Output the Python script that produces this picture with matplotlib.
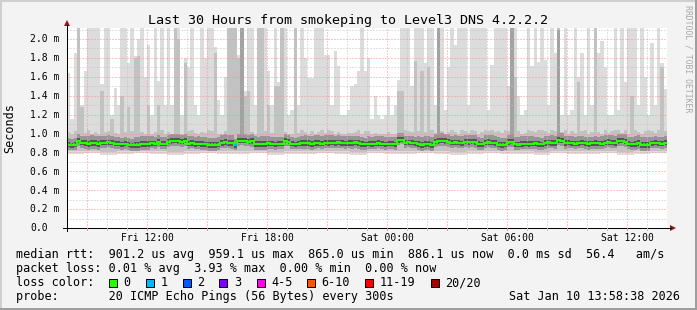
import numpy as np
import matplotlib
matplotlib.use("Agg")
import matplotlib.pyplot as plt
from matplotlib.lines import Line2D
from matplotlib.patches import Rectangle, Polygon

W, H = 697, 310
MONO = "DejaVu Sans Mono"

# 180 bins of 10 minutes, first bin starts Fri 08:00 (values in ms)
top = [
    1.64, 1.15, 1.85, 2.2, 1.3, 1.66, 2.2, 2.2, 2.2, 2.2, 1.52, 2.2, 2.2, 1.2, 1.48,
    1.3, 2.2, 2.2, 1.75, 2.2, 1.82, 2.0, 2.2, 1.6, 1.94, 1.2, 2.2, 1.56, 2.2, 1.3,
    2.2, 1.3, 2.2, 2.2, 1.2, 1.8, 1.7, 2.2, 1.3, 1.2, 2.2, 1.8, 2.2, 2.2, 1.92,
    1.35, 1.2, 1.6, 2.2, 2.2, 2.2, 1.83, 2.2, 1.45, 2.2, 2.2, 1.3, 2.2, 2.2, 2.2,
    1.66, 1.3, 2.2, 1.55, 2.2, 2.2, 1.2, 1.25, 2.2, 1.3, 2.2, 1.8, 1.59, 1.59, 2.2,
    2.2, 2.2, 1.83, 1.83, 1.3, 1.87, 1.71, 1.2, 1.2, 1.25, 1.5, 1.52, 1.66, 2.2, 1.66,
    1.8, 1.15, 1.4, 1.2, 1.15, 1.2, 1.4, 1.2, 1.3, 1.57, 2.2, 2.2, 2.2, 1.5, 2.2,
    2.2, 2.2, 1.75, 2.2, 2.2, 1.3, 2.2, 2.2, 1.25, 1.7, 2.2, 1.94, 2.2, 2.2, 2.2,
    1.3, 2.2, 2.2, 2.2, 2.2, 2.2, 1.25, 1.73, 2.2, 2.2, 2.2, 2.2, 1.5, 2.2, 2.2,
    1.4, 1.2, 1.25, 2.2, 1.71, 2.2, 1.76, 2.2, 1.78, 1.3, 2.2, 1.85, 2.2, 1.2, 2.2,
    1.2, 1.25, 2.2, 1.6, 1.85, 1.2, 2.2, 1.3, 2.2, 1.85, 1.98, 1.7, 1.2, 1.2, 2.2,
    1.25, 2.2, 1.55, 2.2, 2.2, 2.2, 1.3, 2.2, 1.6, 1.2, 1.96, 1.3, 2.2, 1.75, 1.47,
]
mid = [
    1.02, 0.99, 1.03, 2.2, 1.28, 1.01, 1.04, 0.99, 1.02, 1.00, 1.45, 1.02, 1.03, 1.15, 1.01,
    0.99, 1.40, 1.02, 1.28, 1.03, 1.80, 1.82, 1.02, 1.00, 1.30, 0.99, 1.02, 1.30, 1.04, 1.00,
    1.02, 1.00, 2.2, 2.0, 0.99, 1.75, 1.03, 1.04, 1.01, 0.99, 1.02, 1.01, 1.04, 1.03, 1.85,
    1.00, 0.99, 1.03, 2.2, 2.2, 2.2, 1.80, 2.2, 1.40, 1.45, 1.02, 1.00, 2.2, 2.2, 1.03,
    1.30, 1.01, 1.50, 1.50, 2.2, 1.02, 0.99, 1.00, 2.2, 1.01, 1.04, 1.02, 1.00, 1.03, 0.99,
    1.02, 1.04, 1.01, 1.04, 1.03, 0.99, 1.02, 0.99, 0.99, 1.01, 1.01, 1.02, 1.04, 1.00, 1.03,
    1.03, 0.99, 1.01, 0.99, 0.99, 1.00, 1.02, 0.99, 1.00, 1.45, 1.45, 1.04, 1.03, 1.02, 1.77,
    1.03, 1.66, 1.02, 1.70, 1.04, 1.01, 2.2, 1.03, 0.99, 1.02, 1.04, 1.02, 1.00, 1.04, 1.03,
    1.01, 1.04, 1.03, 0.99, 1.02, 1.04, 1.03, 1.04, 1.02, 1.03, 1.01, 1.04, 1.03, 2.2, 1.60,
    1.03, 0.99, 1.01, 1.04, 1.03, 1.02, 1.04, 1.04, 1.03, 1.01, 1.04, 1.03, 2.2, 1.02, 1.04,
    1.00, 1.03, 1.01, 1.55, 1.03, 1.04, 0.99, 1.02, 2.2, 1.02, 1.00, 1.04, 1.01, 1.03, 1.04,
    1.04, 1.01, 1.04, 0.99, 1.40, 1.04, 1.02, 1.00, 1.03, 1.04, 1.03, 1.01, 1.04, 1.70, 1.03,
]
median = [
    0.88, 0.875, 0.88, 0.92, 0.90, 0.895, 0.89, 0.90, 0.895, 0.89, 0.90, 0.90, 0.905, 0.90, 0.89,
    0.89, 0.885, 0.89, 0.88, 0.875, 0.88, 0.88, 0.89, 0.885, 0.89, 0.895, 0.89, 0.91, 0.89, 0.89,
    0.915, 0.92, 0.925, 0.92, 0.915, 0.92, 0.89, 0.895, 0.885, 0.89, 0.89, 0.885, 0.88, 0.875, 0.88,
    0.88, 0.90, 0.905, 0.90, 0.895, 0.875, 0.92, 0.925, 0.92, 0.915, 0.92, 0.89, 0.885, 0.89, 0.89,
    0.895, 0.89, 0.885, 0.89, 0.89, 0.92, 0.915, 0.89, 0.885, 0.89, 0.895, 0.90, 0.895, 0.89, 0.90,
    0.895, 0.89, 0.90, 0.895, 0.90, 0.90, 0.905, 0.90, 0.895, 0.90, 0.90, 0.905, 0.90, 0.89, 0.885,
    0.89, 0.885, 0.89, 0.895, 0.89, 0.885, 0.89, 0.89, 0.885, 0.93, 0.935, 0.90, 0.905, 0.90, 0.895,
    0.885, 0.88, 0.885, 0.89, 0.88, 0.915, 0.92, 0.925, 0.92, 0.915, 0.90, 0.905, 0.90, 0.895, 0.91,
    0.91, 0.915, 0.91, 0.89, 0.885, 0.90, 0.905, 0.90, 0.895, 0.878, 0.875, 0.88, 0.91, 0.915, 0.885,
    0.88, 0.885, 0.89, 0.885, 0.89, 0.895, 0.89, 0.885, 0.90, 0.905, 0.90, 0.895, 0.93, 0.925, 0.895,
    0.90, 0.895, 0.89, 0.895, 0.90, 0.895, 0.89, 0.895, 0.90, 0.895, 0.89, 0.90, 0.905, 0.90, 0.895,
    0.92, 0.925, 0.915, 0.89, 0.885, 0.89, 0.895, 0.88, 0.875, 0.88, 0.895, 0.90, 0.895, 0.89, 0.90,
]
# coarse 50 minute values for the lower smoke edge and the dark band around the median
low = [0.78, 0.79, 0.77, 0.78, 0.79, 0.78, 0.77, 0.78, 0.79, 0.78, 0.78, 0.79,
       0.77, 0.78, 0.78, 0.79, 0.78, 0.77, 0.79, 0.78, 0.78, 0.79, 0.78, 0.77,
       0.78, 0.79, 0.78, 0.78, 0.77, 0.79, 0.78, 0.78, 0.79, 0.77, 0.78, 0.79]
low2 = [0.81, 0.82, 0.80, 0.81, 0.82, 0.81, 0.80, 0.81, 0.82, 0.81, 0.81, 0.82,
        0.80, 0.81, 0.81, 0.82, 0.81, 0.80, 0.82, 0.81, 0.81, 0.82, 0.81, 0.80,
        0.81, 0.82, 0.81, 0.81, 0.80, 0.82, 0.81, 0.81, 0.82, 0.80, 0.81, 0.82]
spread_dn = [0.05, 0.06, 0.05, 0.055, 0.06, 0.05, 0.055, 0.05, 0.06, 0.055, 0.05, 0.06,
             0.055, 0.05, 0.06, 0.05, 0.055, 0.06, 0.05, 0.055, 0.05, 0.06, 0.055, 0.05,
             0.06, 0.05, 0.055, 0.05, 0.06, 0.055, 0.05, 0.06, 0.05, 0.055, 0.06, 0.05]
spread_up = [0.07, 0.08, 0.075, 0.07, 0.085, 0.075, 0.07, 0.08, 0.075, 0.085, 0.07, 0.08,
             0.075, 0.07, 0.08, 0.085, 0.075, 0.07, 0.08, 0.075, 0.07, 0.085, 0.08, 0.075,
             0.07, 0.08, 0.075, 0.085, 0.07, 0.08, 0.075, 0.07, 0.08, 0.075, 0.085, 0.07]
dark_idx = [52, 111, 133, 147]
dark_val = [2.2, 2.2, 2.2, 2.1]
loss_idx = [50]
loss_val = [1]

tick_hours = [4, 10, 16, 22, 28]
tick_labels = ["Fri 12:00", "Fri 18:00", "Sat 00:00", "Sat 06:00", "Sat 12:00"]
y_ticks = [0.0, 0.2, 0.4, 0.6, 0.8, 1.0, 1.2, 1.4, 1.6, 1.8, 2.0]

loss_names = ["0", "1", "2", "3", "4-5", "6-10", "11-19", "20/20"]
loss_colors = ["#26ff00", "#00b8ff", "#0059ff", "#7e00ff", "#ff00ea", "#ff5500", "#ff0000", "#a10000"]
box_x = [108.7, 145.7, 182.7, 219.3, 256.7, 306.7, 365.0, 430.7]

# ---- layout (pixels) ----
L, R, T, B = 67, 667, 28, 228
PX_PER_MS = 94.5


def fx(x):
    return x / W


def fy(y):
    return 1 - y / H


fig = plt.figure(figsize=(W / 100, H / 100), dpi=100, facecolor="#f3f3f3")
ax = fig.add_axes([fx(L), fy(B), (R - L) / W, (B - T) / H])
ax.set_facecolor("white")
ax.set_xlim(0, 30)
ax.set_ylim(0, (B - T) / PX_PER_MS)
for s in ax.spines.values():
    s.set_visible(False)
ax.set_xticks([])
ax.set_yticks([])

edges = np.arange(181) / 6.0
top_a = np.array(top)
mid_a = np.minimum(np.array(mid), top_a)
med = np.array(median)
low_a = np.repeat(low, 5)
low2_a = np.repeat(low2, 5)
dn = np.repeat(spread_dn, 5)
up = np.repeat(spread_up, 5)

# smoke
ax.stairs(top_a, edges, baseline=low_a, fill=True, color="#dcdcdc", lw=0, zorder=1)
ax.stairs(mid_a, edges, baseline=low2_a, fill=True, color="#c2c2c2", lw=0, zorder=1.1)
for i, v in zip(dark_idx, dark_val):
    ax.bar(edges[i], v - 1.0, bottom=1.0, width=1 / 6, align="edge", color="#a2a2a2", lw=0, zorder=1.2)
ax.stairs(med + up, edges, baseline=med - dn, fill=True, color="#969696", lw=0, zorder=1.3)
ax.stairs(med + up / 2.5, edges, baseline=med - dn / 2, fill=True, color="#555555", lw=0, zorder=1.4)

# grid
dots = (0, (1, 2))
for h in range(1, 30):
    major = (8 + h) % 3 == 0
    ax.axvline(h, color="#ff8f8f" if major else "#c4c4c4", lw=0.72, ls=dots, zorder=2)
for k in range(1, 22):
    major = k % 2 == 0
    ax.axhline(k / 10, color="#ff8f8f" if major else "#c4c4c4", lw=0.72, ls=dots, zorder=2)

# median line coloured by loss
ax.stairs(med, edges, baseline=None, color=loss_colors[0], lw=1.5, zorder=3)
for i, v in zip(loss_idx, loss_val):
    ax.plot([edges[i], edges[i + 1]], [med[i], med[i]], color=loss_colors[v], lw=1.5,
            solid_capstyle="butt", zorder=3.1)

# axes lines and arrows
fig.add_artist(Line2D([fx(L), fx(L)], [fy(B + 3), fy(25)], color="black", lw=0.72))
fig.add_artist(Line2D([fx(L - 4), fx(671)], [fy(B), fy(B)], color="black", lw=0.72))
fig.add_artist(Polygon([(fx(L - 3), fy(26)), (fx(L + 3), fy(26)), (fx(L), fy(20))],
                       closed=True, color="#8b1a1a", lw=0))
fig.add_artist(Polygon([(fx(670), fy(B - 3)), (fx(670), fy(B + 3)), (fx(676), fy(B))],
                       closed=True, color="#8b1a1a", lw=0))
for h in range(1, 30):
    xp = L + h * 20
    major = (8 + h) % 3 == 0
    fig.add_artist(Line2D([fx(xp), fx(xp)], [fy(B), fy(B + 2)],
                          color="#ff8f8f" if major else "#c4c4c4", lw=0.72))

# tick labels
for v in y_ticks:
    yp = B - v * PX_PER_MS
    lab = "0.0" if v == 0 else f"{v:.1f} m"
    fig.text(fx(30), fy(yp + 3.3), lab, family=MONO, fontsize=7, ha="left", va="baseline")
for h, lab in zip(tick_hours, tick_labels):
    fig.text(fx(L + h * 20), fy(241), lab, family=MONO, fontsize=7, ha="center", va="baseline")

fig.text(fx(10), fy(128), "Seconds", family=MONO, fontsize=8.5, rotation=90, ha="center", va="center")
fig.text(fx(347.5), fy(24), "Last 30 Hours from smokeping to Level3 DNS 4.2.2.2",
         family=MONO, fontsize=9.6, ha="center", va="baseline")
fig.text(fx(688), fy(5), "RRDTOOL / TOBI OETIKER", family=MONO, fontsize=5.9,
         color="#a8a8a8", rotation=270, ha="center", va="top")

# legend
leg = dict(family=MONO, fontsize=8.5, ha="left", va="baseline")
fig.text(fx(16), fy(258), "median rtt:  901.2 us avg  959.1 us max  865.0 us min  "
         "886.1 us now  0.0 ms sd  56.4   am/s", **leg)
fig.text(fx(16), fy(272), "packet loss: 0.01 % avg  3.93 % max  0.00 % min  0.00 % now", **leg)
fig.text(fx(16), fy(286), "loss color:", **leg)
for bx, name, c in zip(box_x, loss_names, loss_colors):
    fig.add_artist(Rectangle((fx(bx), fy(287)), 8 / W, 8.5 / H, facecolor=c,
                             edgecolor="black", lw=0.72))
    fig.text(fx(bx + 14.5), fy(286), name, **leg)
fig.text(fx(16), fy(300), "probe:       20 ICMP Echo Pings (56 Bytes) every 300s", **leg)
fig.text(fx(680), fy(300), "Sat Jan 10 13:58:38 2026", family=MONO, fontsize=8.5,
         ha="right", va="baseline")

# frame shading
fig.add_artist(Rectangle((0, 0), 1, 2 / H, color="#9e9e9e", lw=0))
fig.add_artist(Rectangle((1 - 2 / W, 0), 2 / W, 1, color="#9e9e9e", lw=0))
fig.add_artist(Rectangle((0, 1 - 2 / H), 1 - 2 / W, 2 / H, color="#cfcfcf", lw=0))
fig.add_artist(Rectangle((0, 2 / H), 2 / W, 1 - 4 / H, color="#cfcfcf", lw=0))

fig.savefig("out.png", dpi=100, facecolor=fig.get_facecolor())
